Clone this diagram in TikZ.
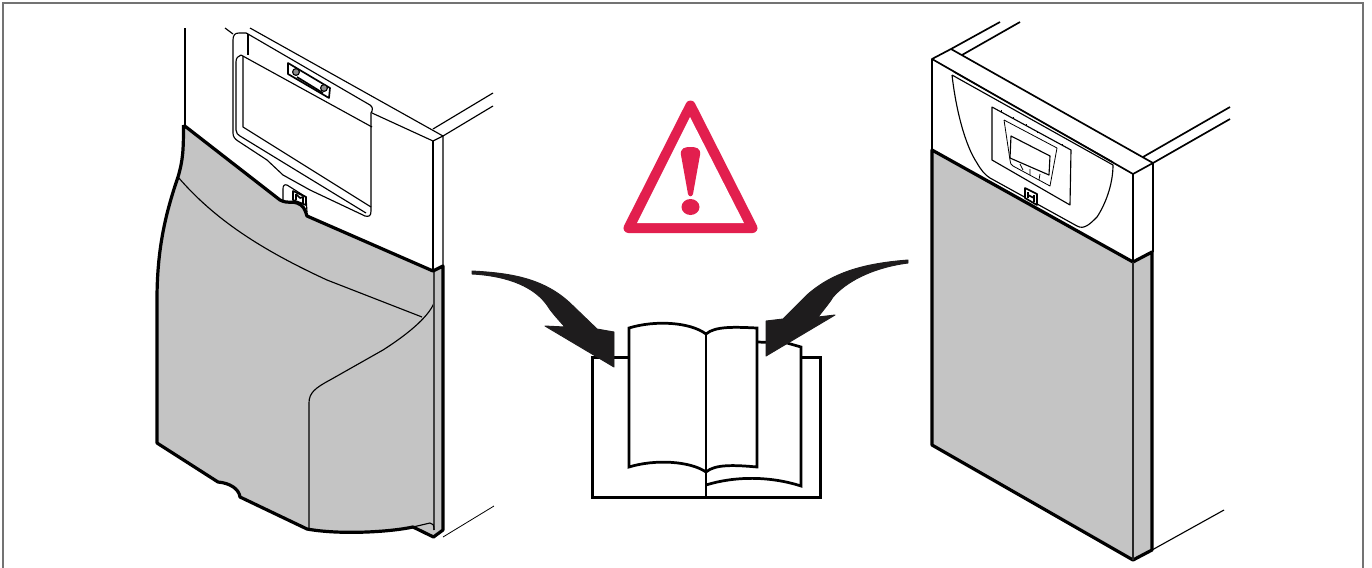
\documentclass[tikz,border=0pt]{standalone}
\definecolor{warn}{HTML}{E21F4E}
\definecolor{panelgray}{HTML}{C4C4C4}
\definecolor{arrowblk}{HTML}{1E1C1D}
\tikzset{
  hair/.style={line width=0.6pt,draw=black,line join=round},
  thin line/.style={line width=0.85pt,draw=black,line join=round},
  mid/.style={line width=1.25pt,draw=black,line join=round},
  heavy/.style={line width=2.4pt,draw=black,line join=round},
  bookline/.style={line width=2.05pt,draw=black,line join=miter},
  panel/.style={fill=panelgray,draw=none},
}
\begin{document}
\begin{tikzpicture}[x=0.75pt,y=-0.75pt]
\useasboundingbox (0,0) rectangle (1372,568);
\fill[white] (0,0) rectangle (1372,568);
\draw[line width=1.5pt,draw=black!55] (3,568) -- (3,3) -- (1363,3) -- (1363,568);
% ---------- left boiler
\fill[panel] (183.5,125) -- (280,200) .. controls (288,204) and (292,201) .. (297,203) .. controls (303,205) and (305,209) .. (307,216) -- (433,271) -- (443,266) -- (443,530) -- (433.5,537) -- (413,527) .. controls (390,532) and (340,535) .. (307,529) -- (240,497) .. controls (239,489) and (230,483) .. (218,482) -- (157,443) -- (157,300) .. controls (157,250) and (165,215) .. (178,177) .. controls (183,160) and (183.5,150) .. (183.5,125) -- cycle;
% casing
\draw[thin line] (185,28) -- (185,125);
\draw[thin line] (250,28) -- (443,136) -- (443,266);
\draw[thin line] (433,141) -- (433,271);
\draw[thin line] (372,113) -- (433,141) -- (443,136);
\draw[thin line] (433,129) -- (493,93);
\draw[thin line] (443,136) -- (493,106);
% control recess
\draw[thin line] (225,28) -- (233,34);
\draw[thin line] (233,133) -- (233,40) .. controls (233,35) and (235,33) .. (239,33) -- (246,33) -- (248,34) -- (370,105) .. controls (373,107) and (373,110) .. (371,113) -- (371,211) .. controls (371,216) and (369,217) .. (365,216) -- (310,190) -- (283,175) -- (267,160) -- (238,141) .. controls (235,139) and (233,137) .. (233,133);
\draw[thin line] (248,34) -- (248,55);
\draw[thin line] (241,55) -- (372,127);
\draw[thin line] (241,55) .. controls (238,56) and (236,58) .. (236,62) -- (236,130) .. controls (236,133) and (238,135) .. (240,136) -- (366,213);
\draw[thin line] (243,56) -- (243,127) -- (371,207);
\draw[thin line] (287,185) .. controls (284,184) and (283,186) .. (283,189) -- (283,201);
\draw[thin line] (287,185) -- (306,197) -- (307,212);
\draw[mid,fill=white] (293,191) -- (306,197) -- (306,205) -- (293,200) -- cycle;
\draw[mid] (296,194) -- (296,200) (296,194) -- (300,198) -- (303,197) -- (303,203);
% plate
\draw[mid] (288,63) -- (330,88) -- (329,98) -- (288,74) -- cycle;
\draw[mid] (297,77) -- (323,93);
\draw[thin line,fill=black!45] (296,72) circle (3.4);
\draw[thin line,fill=black!45] (324,88) circle (3.4);
% panel lines
\draw[thin line] (178,177) .. controls (215,220) and (262,250) .. (327,280) -- (422,317);
\draw[thin line] (434,303) .. controls (428,318) and (405,336) .. (383,350) -- (330,380) .. controls (315,388) and (309,393) .. (309,403) -- (309,528);
\draw[mid,draw=black!75] (434,271) -- (434,530);
\draw[thin line] (413,527) -- (430,523) .. controls (433,523) and (434,525) .. (434,530);
\draw[hair] (443,537) -- (494,506);
% thick outline
\draw[heavy] (183.5,125) -- (280,200) .. controls (288,204) and (292,201) .. (297,203) .. controls (303,205) and (305,209) .. (307,216) -- (433,271) -- (443,266) -- (443,530) -- (433.5,537) -- (413,527) .. controls (390,532) and (340,535) .. (307,529) -- (240,497) .. controls (239,489) and (230,483) .. (218,482) -- (157,443) -- (157,300) .. controls (157,250) and (165,215) .. (178,177) .. controls (183,160) and (183.5,150) .. (183.5,125);
% ---------- right boiler
\fill[panel] (932,150) -- (1133,262) -- (1153,252) -- (1153,550) -- (1133,560) -- (932,445) -- cycle;
\draw[mid] (932,150) -- (932,59) -- (1133,174) -- (1133,262);
\draw[mid] (932,59) -- (951,49) -- (1153,163) -- (1153,252);
\draw[mid] (1133,174) -- (1153,163);
\draw[mid] (951,49) -- (1000,22);
\draw[mid] (962,55) -- (1020,22);
\draw[mid] (1143,157) -- (1230,107);
\draw[mid] (1153,163) -- (1230,119);
\draw[thin line] (952,75) .. controls (956,110) and (965,145) .. (977,163) .. controls (981,170) and (985,175) .. (990,178) -- (1077,226) .. controls (1084,230) and (1090,224) .. (1097,217) .. controls (1105,205) and (1113,185) .. (1113,165) -- (952,75);
\draw[thin line] (954,72) -- (1113,162);
\draw[thin line] (992,107) -- (1071,150) -- (1070,205) -- (992,160) -- cycle;
\draw[hair] (1004,120) -- (1057,148) -- (1050,186) -- (1013,166) .. controls (1011,165) and (1010,163) .. (1010,160) -- (1004,120);
\draw[thin line] (1011,136) -- (1050,156) -- (1049,175) -- (1010,158) -- cycle;
\draw[hair] (1020,164) -- (1023,170) (1030,169) -- (1030,175) (1040,174) -- (1039,180);
\draw[hair] (1001,110) -- (1001,112) (1013,117) -- (1013,119) (1026,124) -- (1026,126) (1037,131) -- (1037,133) (1062,144) -- (1062,146);
\draw[mid,fill=white] (1025,188) -- (1037,194) -- (1037,205) -- (1025,198) -- cycle;
\draw[mid] (1028,192) -- (1028,198) (1034,195) -- (1034,202) (1028,195) -- (1034,198);
\draw[heavy] (932,150) -- (932,445) -- (1133,560) -- (1152,550) -- (1152,252) -- (1133,262) -- cycle;
\draw[mid,draw=black!85] (1133,262) -- (1133,560);
\draw[thin line] (1152,550) -- (1224,510);
% ---------- warning sign
\filldraw[warn,line width=7.5pt,line join=round] (690.5,105.5) -- (752.5,228) -- (628.5,228) -- cycle;
\fill[white] (690,117) -- (744,223) -- (637,223) -- cycle;
\fill[warn] (681,155) .. controls (680,148) and (685,147) .. (690.5,147) .. controls (696,147) and (701,148) .. (700,155) -- (693,194) .. controls (692,197) and (689,197) .. (688,194) -- cycle;
\fill[warn] (690.5,207) ellipse (9 and 8);
% ---------- book
\draw[bookline] (629,357.5) -- (592.4,357.5) -- (592.4,497.4) -- (820.4,497.4) -- (820.4,357.5) -- (801,357.5);
\draw[bookline] (757,342) -- (787,343) -- (801,347) -- (801,486) .. controls (770,476) and (735,476) .. (706,485);
\draw[bookline] (629,467) -- (629,328) .. controls (655,320) and (690,322) .. (706,334) .. controls (715,326) and (735,327) .. (757,328) -- (757,467) .. controls (735,465) and (715,464) .. (706,472) .. controls (690,461) and (655,459) .. (629,467) -- cycle;
\draw[bookline] (706,334) -- (706,497);
% ---------- arrows
\filldraw[arrowblk,line width=0.7pt,line join=round] (472,271) .. controls (510,273) and (543,278) .. (570,303) -- (597,329) -- (614,332) -- (614,367) -- (545,326) -- (565,327) .. controls (555,316) and (550,310) .. (547,305) .. controls (535,288) and (510,276) .. (472,274) -- cycle;
\filldraw[arrowblk,line width=0.7pt,line join=round] (908,260) .. controls (870,263) and (835,270) .. (807,295) -- (783,319) -- (766,321) -- (766,356) -- (835,315) -- (818,317) .. controls (825,308) and (830,302) .. (833,297) .. controls (845,283) and (870,268) .. (908,263) -- cycle;
\end{tikzpicture}
\end{document}
